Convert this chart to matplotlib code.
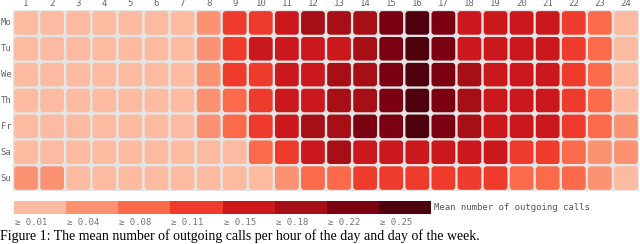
import matplotlib.pyplot as plt
from matplotlib.patches import FancyBboxPatch

# mean number of outgoing calls, per day (rows) and hour (columns)
days = ["Mo", "Tu", "We", "Th", "Fr", "Sa", "Su"]
hours = [str(h) for h in range(1, 25)]

mo = [0.02, 0.02, 0.02, 0.02, 0.02, 0.02, 0.02, 0.06, 0.13, 0.13, 0.16, 0.20,
      0.20, 0.20, 0.23, 0.27, 0.23, 0.16, 0.16, 0.16, 0.16, 0.13, 0.09, 0.02]
tu = [0.02, 0.02, 0.02, 0.02, 0.02, 0.02, 0.02, 0.06, 0.13, 0.16, 0.16, 0.16,
      0.16, 0.20, 0.23, 0.27, 0.23, 0.16, 0.16, 0.16, 0.16, 0.13, 0.09, 0.02]
we = [0.02, 0.02, 0.02, 0.02, 0.02, 0.02, 0.02, 0.06, 0.13, 0.13, 0.16, 0.16,
      0.20, 0.20, 0.23, 0.27, 0.23, 0.20, 0.16, 0.16, 0.16, 0.13, 0.09, 0.02]
th = [0.02, 0.02, 0.02, 0.02, 0.02, 0.02, 0.02, 0.06, 0.09, 0.13, 0.16, 0.16,
      0.20, 0.20, 0.23, 0.27, 0.23, 0.20, 0.16, 0.16, 0.16, 0.13, 0.09, 0.02]
fr = [0.02, 0.02, 0.02, 0.02, 0.02, 0.02, 0.02, 0.06, 0.09, 0.13, 0.16, 0.20,
      0.20, 0.23, 0.23, 0.27, 0.23, 0.20, 0.16, 0.16, 0.16, 0.13, 0.09, 0.06]
sa = [0.02, 0.02, 0.02, 0.02, 0.02, 0.02, 0.02, 0.02, 0.02, 0.09, 0.13, 0.16,
      0.20, 0.16, 0.16, 0.16, 0.16, 0.16, 0.16, 0.13, 0.13, 0.09, 0.06, 0.06]
su = [0.06, 0.06, 0.02, 0.02, 0.02, 0.02, 0.02, 0.02, 0.02, 0.02, 0.06, 0.09,
      0.09, 0.13, 0.13, 0.13, 0.13, 0.13, 0.13, 0.09, 0.09, 0.09, 0.06, 0.02]
values = [mo, tu, we, th, fr, sa, su]

# legend classes
thresholds = [0.01, 0.04, 0.08, 0.11, 0.15, 0.18, 0.22, 0.25]
colors = ["#fcbba1", "#fc9272", "#fb6a4a", "#ef3b2c",
          "#cb181d", "#a50f15", "#7a0012", "#4e000c"]


def color_for(v):
    c = colors[0]
    for t, col in zip(thresholds, colors):
        if v >= t:
            c = col
    return c


W, H = 640, 244
fig = plt.figure(figsize=(W / 100, H / 100), dpi=100)
mono = "DejaVu Sans Mono"
grey = "#666666"

# heatmap grid
ax = fig.add_axes([13 / W, 1 - 191 / H, 626 / W, 181 / H])
ax.set_facecolor("#e4e4e4")
ax.set_xlim(0, 24)
ax.set_ylim(7, 0)
for i, row in enumerate(values):
    for j, v in enumerate(row):
        box = FancyBboxPatch((j + 0.045, i + 0.045), 0.91, 0.91,
                             boxstyle="round,pad=0,rounding_size=0.12",
                             facecolor=color_for(v), edgecolor="none")
        ax.add_patch(box)
ax.set_xticks([])
ax.set_yticks([])
for s in ax.spines.values():
    s.set_visible(False)
for j, h in enumerate(hours):
    ax.text(j + 0.5, -0.08, h, ha="center", va="bottom", fontsize=6.5,
            family=mono, color=grey)
for i, d in enumerate(days):
    ax.text(-0.47, i + 0.5, d, ha="left", va="center", fontsize=6.5,
            family=mono, color=grey)

# legend bar
lax = fig.add_axes([14 / W, 1 - 214 / H, 417 / W, 13 / H])
lax.bar(range(len(thresholds)), [1] * len(thresholds), width=1.0,
        align="edge", color=colors)
lax.set_xlim(0, len(thresholds))
lax.set_ylim(0, 1)
lax.axis("off")
for k, t in enumerate(thresholds):
    lax.text(k + 0.02, -0.3, "\u2265 %.2f" % t, ha="left", va="top",
             fontsize=6.5, family=mono, color="#777777")
lax.text(len(thresholds) + 0.05, 0.5, "Mean number of outgoing calls",
         ha="left", va="center", fontsize=6.5, family=mono, color="#555555")

# figure caption
fig.text(0, 1 / H,
         "Figure 1: The mean number of outgoing calls per hour of the day and day of the week.",
         ha="left", va="bottom", fontsize=10, family="Liberation Serif", color="black")

fig.savefig("out.png", dpi=100)
